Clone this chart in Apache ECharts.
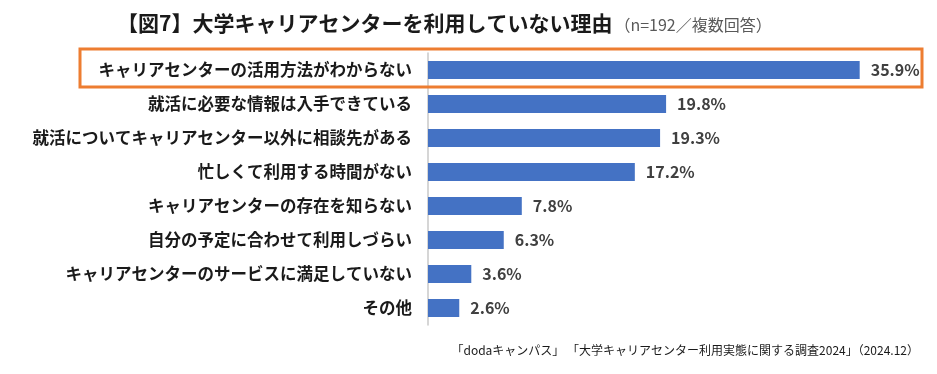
<!DOCTYPE html>
<html>
<head>
<meta charset="utf-8">
<script src="https://cdn.jsdelivr.net/npm/echarts@6/dist/echarts.min.js"></script>
<style>
html,body{margin:0;padding:0;background:#fff;}
#c{width:937px;height:374px;}
</style>
</head>
<body>
<div id="c"></div>
<script>
const categories = [
  'キャリアセンターの活用方法がわからない',
  '就活に必要な情報は入手できている',
  '就活についてキャリアセンター以外に相談先がある',
  '忙しくて利用する時間がない',
  'キャリアセンターの存在を知らない',
  '自分の予定に合わせて利用しづらい',
  'キャリアセンターのサービスに満足していない',
  'その他'
];
const values = [35.9, 19.8, 19.3, 17.2, 7.8, 6.3, 3.6, 2.6];
const titleMain = '【図7】大学キャリアセンターを利用していない理由';
const titleSub = '（n=192／複数回答）';
const sourceText = '「dodaキャンパス」 「大学キャリアセンター利用実態に関する調査2024」（2024.12）';

const FONT = '"Noto Sans CJK JP", "Noto Sans", sans-serif';
const chart = echarts.init(document.getElementById('c'), null, {renderer: 'canvas'});
chart.setOption({
  backgroundColor: '#fff',
  animation: false,
  title: {
    text: '{a|' + titleMain + '}{b|' + titleSub + '}',
    left: 112, top: 8,
    textStyle: {
      fontWeight: 'normal',
      rich: {
        a: {fontFamily: FONT, fontSize: 21, fontWeight: 'bold', color: '#1a1a1a'},
        b: {fontFamily: FONT, fontSize: 16, fontWeight: 'normal', color: '#595959', padding: [3, 0, 0, 2]}
      }
    }
  },
  grid: {left: 428, top: 53, width: 481, height: 272, containLabel: false},
  xAxis: {type: 'value', min: 0, max: 40, show: false},
  yAxis: {
    type: 'category', data: categories, inverse: true,
    axisLine: {show: true, lineStyle: {color: '#C8C8C8', width: 1.5}},
    axisTick: {show: false},
    axisLabel: {fontFamily: FONT, fontSize: 16.5, fontWeight: 'bold', color: '#1a1a1a', margin: 16}
  },
  series: [{
    type: 'bar', data: values, barWidth: 18,
    itemStyle: {color: '#4472C4'},
    label: {show: true, position: 'right', distance: 11, formatter: p => p.value.toFixed(1) + '%',
      fontFamily: FONT, fontSize: 16, fontWeight: 'bold', color: '#404040'}
  }],
  graphic: [
    {type: 'rect', shape: {x: 80, y: 49, width: 842, height: 38},
      style: {fill: 'none', stroke: '#ED7D31', lineWidth: 3}, z: 100},
    {type: 'text', right: 18, top: 344,
      style: {text: sourceText, font: '12px ' + FONT, fill: '#1a1a1a'}}
  ]
});
</script>
</body>
</html>
